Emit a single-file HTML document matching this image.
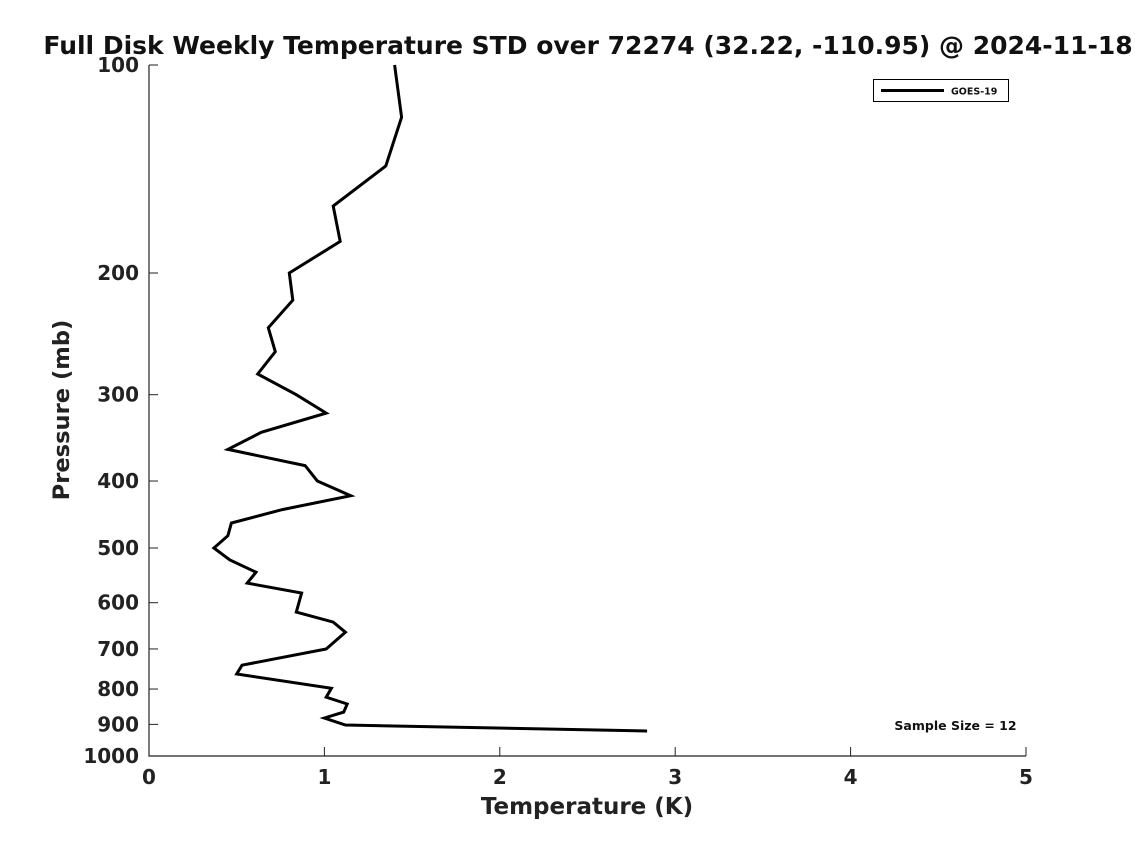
<!DOCTYPE html>
<html><head><meta charset="utf-8"><style>
body{margin:0;background:#fff;}
svg{display:block;font-family:"DejaVu Sans","Liberation Sans",sans-serif;}
</style></head><body>
<svg id="chart" width="1135" height="851">
<text x="588" y="54" text-anchor="middle" font-size="25" font-weight="bold" fill="#111">Full Disk Weekly Temperature STD over 72274 (32.22, -110.95) @ 2024-11-18</text>
<g id="axes"></g>
<g id="series"></g>
<g>
<rect x="873.5" y="79.5" width="135" height="22" fill="#fff" stroke="#000" stroke-width="1"/>
<line x1="881" y1="90.5" x2="944" y2="90.5" stroke="#000" stroke-width="3"/>
<text x="951" y="94.5" font-size="9.5" font-weight="bold" fill="#111">GOES-19</text>
</g>
<text x="955.5" y="730" text-anchor="middle" font-size="12.5" font-weight="bold" fill="#111">Sample Size = 12</text>
<text x="587" y="814" text-anchor="middle" font-size="23" font-weight="bold" fill="#222">Temperature (K)</text>
<text transform="translate(69,410) rotate(-90)" text-anchor="middle" font-size="22.6" font-weight="bold" fill="#222">Pressure (mb)</text>
</svg>
<script>
const pressures=[100,119,140,160,180,200,219,240,260,280,300,319,340,360,380,400,420,440,460,480,500,520,542,562,581,619,640,662,700,739,761,798,822,841,864,881,902,920];
const temps=[1.40,1.44,1.35,1.05,1.09,0.80,0.82,0.68,0.72,0.62,0.84,1.01,0.64,0.45,0.89,0.96,1.15,0.76,0.47,0.45,0.37,0.46,0.61,0.56,0.87,0.84,1.05,1.12,1.01,0.53,0.50,1.04,1.01,1.13,1.11,1.00,1.12,2.84];
const xTicks=[0,1,2,3,4,5];
const yTicks=[100,200,300,400,500,600,700,800,900,1000];
const X0=149,X1=1026,Y0=65,Y1=756;
const xs=v=>X0+(v-0)/(5-0)*(X1-X0);
const ys=p=>Y0+(Math.log10(p)-2)/(1)*(Y1-Y0);
const NS='http://www.w3.org/2000/svg';
const axes=document.getElementById('axes');
function mk(tag,attrs,parent){const e=document.createElementNS(NS,tag);for(const k in attrs)e.setAttribute(k,attrs[k]);parent.appendChild(e);return e;}
const ax=mk('path',{d:`M${X0},${Y0}V${Y1}H${X1}`,fill:'none',stroke:'#222','stroke-width':1.2},axes);


xTicks.forEach(t=>{
 const x=xs(t);
 const l=mk('line',{x1:x,y1:Y1,x2:x,y2:Y1-9,stroke:'#222','stroke-width':1},axes);
 
 
 const tx=mk('text',{x:x,y:Y1+28,'text-anchor':'middle','font-size':20,'font-weight':'bold',fill:'#222'},axes);
 tx.textContent=t;
 
 
});
yTicks.forEach(t=>{
 const y=ys(t);
 const l=mk('line',{x1:X0,y1:y,x2:X0+9,y2:y,stroke:'#222','stroke-width':1},axes);
 
 
 const tx=mk('text',{x:X0-10,y:y+7,'text-anchor':'end','font-size':20,'font-weight':'bold',fill:'#222'},axes);
 tx.textContent=t;
 
 
});
const pts=pressures.map((p,i)=>xs(temps[i]).toFixed(1)+','+ys(p).toFixed(1)).join(' ');
const pl=mk('polyline',{points:pts,fill:'none',stroke:'#000','stroke-width':3,'stroke-linejoin':'miter'},document.getElementById('series'));


</script>
</body></html>
